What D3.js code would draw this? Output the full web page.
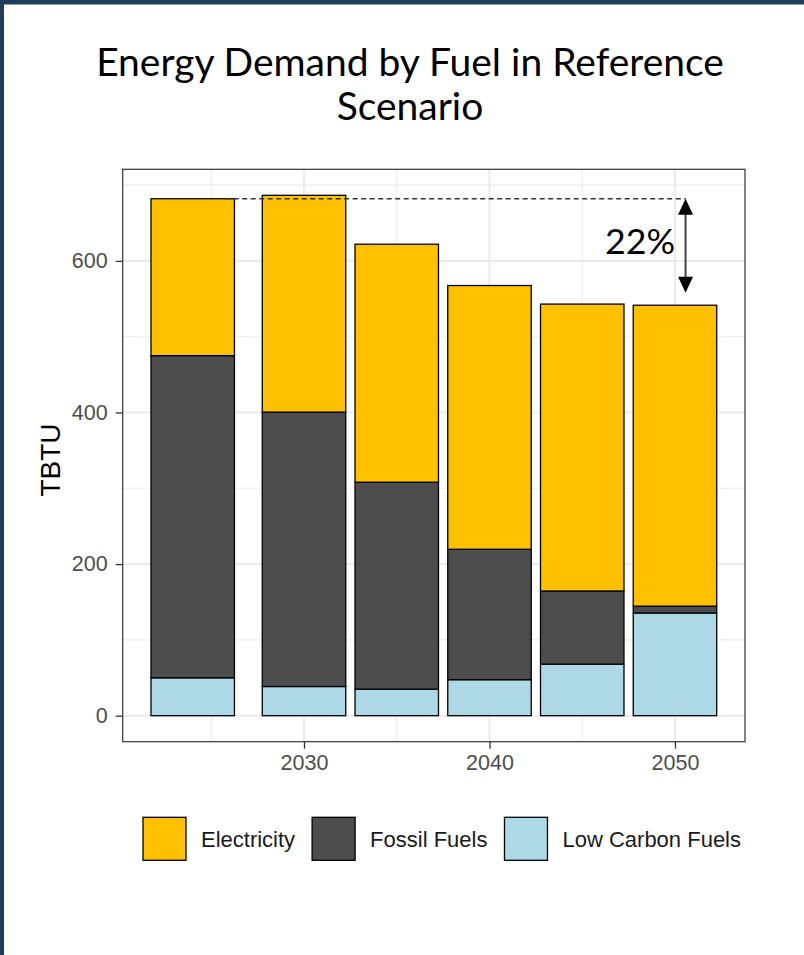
<!DOCTYPE html>
<html>
<head>
<meta charset="utf-8">
<script src="https://cdn.jsdelivr.net/npm/d3@7"></script>
<style>
  body { margin: 0; background: #ffffff; }
  svg { display: block; }
</style>
</head>
<body>
<svg id="chart" width="804" height="955"></svg>
<script>
// ---- Data (TBTU) ----
const years = [2024, 2030, 2035, 2040, 2045, 2050];
const lowCarbon   = [50, 38.5, 35, 47.5, 68, 135.5];
const fossil      = [425, 362, 273, 172, 96.5, 9];
const electricity = [207, 286, 314, 348, 378.5, 397];

// stacking order, bottom to top
const stackKeys = ["Low Carbon Fuels", "Fossil Fuels", "Electricity"];
// legend order and fills
const legendKeys = ["Electricity", "Fossil Fuels", "Low Carbon Fuels"];
const fuelColors = ["#FFC000", "#4D4D4D", "#ADD8E6"];

const yTickValues = [0, 200, 400, 600];
const yMinorValues = [100, 300, 500, 700];
const xTickValues = [2030, 2040, 2050];
const xMinorValues = [2025, 2035, 2045];

const titleLines = ["Energy Demand by Fuel in Reference", "Scenario"];
const yAxisTitle = "TBTU";
const changeLabel = "22%";
const changeArrowEnd = 558;   // lower end of the reduction arrow (TBTU)

// ---- Build table ----
const table = years.map((yr, i) => ({
  year: yr,
  "Low Carbon Fuels": lowCarbon[i],
  "Fossil Fuels": fossil[i],
  "Electricity": electricity[i]
}));
const stacked = d3.stack().keys(stackKeys)(table);
const totals = table.map(d => stackKeys.reduce((s, k) => s + d[k], 0));
const colorOf = d3.scaleOrdinal().domain(legendKeys).range(fuelColors);

// ---- Layout ----
const svg = d3.select("#chart");
const panel = { left: 122.7, right: 745, top: 169.3, bottom: 741.7 };
const barWidthYears = 4.5;

// x: continuous years, padded like ggplot (half bar + 5%)
const xLo = d3.min(years) - barWidthYears / 2, xHi = d3.max(years) + barWidthYears / 2;
const xPad = (xHi - xLo) * 0.05;
const x = d3.scaleLinear().domain([xLo - xPad, xHi + xPad]).range([panel.left, panel.right]);

const yMax = d3.max(totals);
const yPad = yMax * 0.05;
const y = d3.scaleLinear().domain([-yPad, yMax + yPad]).range([panel.bottom, panel.top]);

// page frame
svg.append("rect").attr("x", 0).attr("y", 0).attr("width", 804).attr("height", 955).attr("fill", "#ffffff");
svg.append("rect").attr("x", 0).attr("y", 0).attr("width", 804).attr("height", 4.5).attr("fill", "#203d5c");
svg.append("rect").attr("x", 0).attr("y", 0).attr("width", 4).attr("height", 955).attr("fill", "#203d5c");

// ---- Title ----
const titleFont = "Lato, 'Open Sans', sans-serif";
const title = svg.append("g").attr("font-family", titleFont).attr("fill", "#000");
const t1 = title.append("text").attr("x", 410).attr("y", 76).attr("text-anchor", "middle")
  .attr("font-size", 40).text(titleLines[0]);
const w1 = t1.node().getComputedTextLength();
const titleSize = 40 * 628 / w1;
t1.attr("font-size", titleSize);
title.append("text").attr("x", 410).attr("y", 120).attr("text-anchor", "middle")
  .attr("font-size", titleSize).text(titleLines[1]);

// ---- Grid ----
const grid = svg.append("g");
grid.selectAll(".ymin").data(yMinorValues).join("line")
  .attr("x1", panel.left).attr("x2", panel.right)
  .attr("y1", d => y(d)).attr("y2", d => y(d))
  .attr("stroke", "#ebebeb").attr("stroke-width", 1.1);
grid.selectAll(".xmin").data(xMinorValues).join("line")
  .attr("y1", panel.top).attr("y2", panel.bottom)
  .attr("x1", d => x(d)).attr("x2", d => x(d))
  .attr("stroke", "#ebebeb").attr("stroke-width", 1.1);
grid.selectAll(".ymaj").data(yTickValues).join("line")
  .attr("x1", panel.left).attr("x2", panel.right)
  .attr("y1", d => y(d)).attr("y2", d => y(d))
  .attr("stroke", "#ebebeb").attr("stroke-width", 2.1);
grid.selectAll(".xmaj").data(xTickValues).join("line")
  .attr("y1", panel.top).attr("y2", panel.bottom)
  .attr("x1", d => x(d)).attr("x2", d => x(d))
  .attr("stroke", "#ebebeb").attr("stroke-width", 2.1);

// ---- Bars ----
const bars = svg.append("g");
bars.selectAll("g").data(stacked).join("g")
  .attr("fill", d => colorOf(d.key))
  .selectAll("rect").data(d => d).join("rect")
  .attr("x", d => x(d.data.year - barWidthYears / 2))
  .attr("width", d => x(d.data.year + barWidthYears / 2) - x(d.data.year - barWidthYears / 2))
  .attr("y", d => y(d[1]))
  .attr("height", d => y(d[0]) - y(d[1]))
  .attr("stroke", "#000").attr("stroke-width", 1.3);

// ---- Panel border ----
svg.append("rect")
  .attr("x", panel.left).attr("y", panel.top)
  .attr("width", panel.right - panel.left).attr("height", panel.bottom - panel.top)
  .attr("fill", "none").attr("stroke", "#333333").attr("stroke-width", 1.2);

// ---- Axes ----
const tickFont = "'Liberation Sans', Arial, sans-serif";
const yAxis = svg.append("g").attr("transform", `translate(${panel.left},0)`)
  .call(d3.axisLeft(y).tickValues(yTickValues).tickSize(7).tickPadding(8).tickFormat(d3.format("d")));
const xAxis = svg.append("g").attr("transform", `translate(0,${panel.bottom})`)
  .call(d3.axisBottom(x).tickValues(xTickValues).tickSize(7).tickPadding(6).tickFormat(d3.format("d")));
[yAxis, xAxis].forEach(ax => {
  ax.select(".domain").remove();
  ax.selectAll(".tick line").attr("stroke", "#333333").attr("stroke-width", 1.3);
  ax.selectAll(".tick text").attr("fill", "#4D4D4D").attr("font-size", 21.5).attr("font-family", tickFont);
});

svg.append("text")
  .attr("transform", `translate(60,460) rotate(-90)`)
  .attr("text-anchor", "middle")
  .attr("font-family", tickFont).attr("font-size", 28).attr("fill", "#000")
  .text(yAxisTitle);

// ---- Reduction annotation ----
const arrowX = x(2050.57);
const startVal = totals[0];
svg.append("line")
  .attr("x1", x(2025.75)).attr("x2", arrowX)
  .attr("y1", y(startVal)).attr("y2", y(startVal))
  .attr("stroke", "#333333").attr("stroke-width", 1.3).attr("stroke-dasharray", "5,3.5");
const yTop = y(startVal), yBot = y(changeArrowEnd);
const headH = 16, headW = 7.5;
svg.append("line")
  .attr("x1", arrowX).attr("x2", arrowX)
  .attr("y1", yTop + headH - 1).attr("y2", yBot - headH + 1)
  .attr("stroke", "#404040").attr("stroke-width", 2);
svg.append("path")
  .attr("d", `M${arrowX},${yTop} L${arrowX - headW},${yTop + headH} L${arrowX + headW},${yTop + headH} Z`)
  .attr("fill", "#000");
svg.append("path")
  .attr("d", `M${arrowX},${yBot} L${arrowX - headW},${yBot - headH} L${arrowX + headW},${yBot - headH} Z`)
  .attr("fill", "#000");
const pct = svg.append("text")
  .attr("x", 675).attr("y", 254).attr("text-anchor", "end")
  .attr("font-family", titleFont).attr("font-size", 40).attr("fill", "#000")
  .text(changeLabel);
pct.attr("font-size", 40 * 70 / pct.node().getComputedTextLength());

// ---- Legend ----
const legend = svg.append("g").attr("font-family", tickFont).attr("font-size", 22);
const keySize = 43, keyGap = 15, itemGap = 17, legendY = 817.3;
const items = legendKeys.map(k => {
  const t = legend.append("text").attr("fill", "#1a1a1a").text(k);
  return { key: k, node: t, w: t.node().getComputedTextLength() };
});
const totalW = d3.sum(items, d => keySize + keyGap + d.w) + itemGap * (items.length - 1);
let cx = 442 - totalW / 2;
items.forEach(it => {
  legend.append("rect")
    .attr("x", cx).attr("y", legendY).attr("width", keySize).attr("height", keySize)
    .attr("fill", colorOf(it.key)).attr("stroke", "#000").attr("stroke-width", 1.3);
  it.node.attr("x", cx + keySize + keyGap).attr("y", legendY + keySize / 2 + 8);
  cx += keySize + keyGap + it.w + itemGap;
});
</script>
</body>
</html>
